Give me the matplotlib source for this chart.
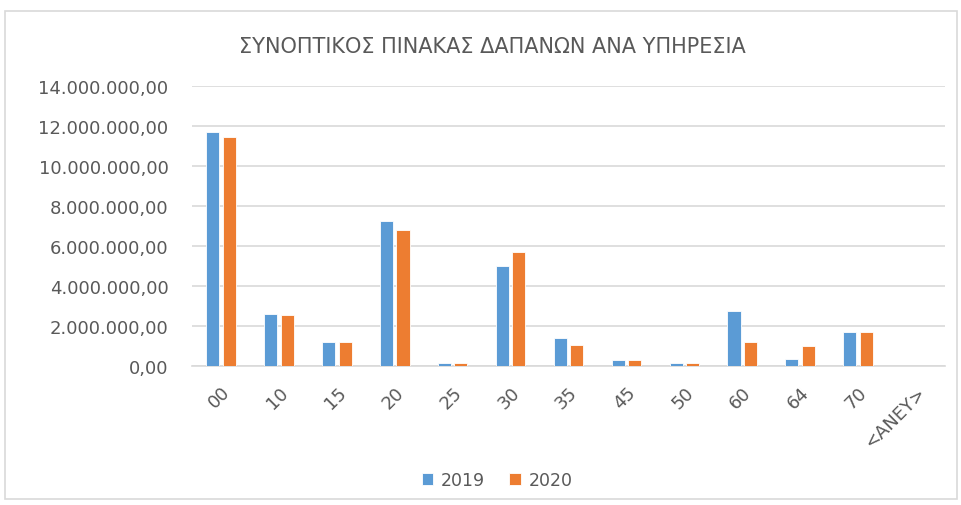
import matplotlib.pyplot as plt
import matplotlib.patches as mpatches
from matplotlib.ticker import FuncFormatter, MultipleLocator
import numpy as np

# --- DATA ---
categories = ["00", "10", "15", "20", "25", "30", "35", "45", "50", "60", "64", "70", "<ΑΝΕΥ>"]
values_2019 = [11680000, 2580000, 1180000, 7270000, 130000, 4980000, 1380000,
               300000, 130000, 2750000, 350000, 1700000, 0]
values_2020 = [11450000, 2530000, 1180000, 6820000, 130000, 5720000, 1030000,
               300000, 130000, 1200000, 980000, 1700000, 0]

BLUE = "#5B9BD5"
ORANGE = "#ED7D31"
TXT = "#595959"


def greek_fmt(v, pos):
    s = f"{v:,.2f}"
    return s.replace(",", "X").replace(".", ",").replace("X", ".")


plt.rcParams['font.family'] = ['DejaVu Sans']

fig = plt.figure(figsize=(9.61, 5.06), dpi=100)
fig.patch.set_facecolor("white")

# outer chart border
fig.patches.append(mpatches.Rectangle((5 / 961, 6 / 506), 952 / 961, 488 / 506,
                                      transform=fig.transFigure, fill=False,
                                      edgecolor="#d9d9d9", linewidth=1.2))

ax = fig.add_axes([192 / 961, 1 - 367 / 506, 753 / 961, 280 / 506])

x = np.arange(len(categories))
w = 0.225
ax.bar(x - w / 2 - 0.03, values_2019, w, color=BLUE, edgecolor="white", linewidth=0.6, label="2019", zorder=3)
ax.bar(x + w / 2 + 0.03, values_2020, w, color=ORANGE, edgecolor="white", linewidth=0.6, label="2020", zorder=3)

ax.set_xlim(-0.5, len(categories) - 0.5)
ax.set_ylim(0, 14000000)
ax.yaxis.set_major_locator(MultipleLocator(2000000))
ax.yaxis.set_major_formatter(FuncFormatter(greek_fmt))
ax.grid(axis="y", color="#d9d9d9", linewidth=1.2, zorder=0)

for s in ["top", "right", "left"]:
    ax.spines[s].set_visible(False)
ax.spines["bottom"].set_color("#d9d9d9")
ax.spines["bottom"].set_linewidth(1.2)

ax.set_xticks(x)
ax.set_xticklabels(categories, rotation=45, ha="right", rotation_mode="anchor")
ax.tick_params(axis="both", length=0, colors=TXT, labelsize=13)
ax.tick_params(axis="y", pad=17)
ax.tick_params(axis="x", pad=12)

fig.text(492 / 961, 1 - 47 / 506, "ΣΥΝΟΠΤΙΚΟΣ ΠΙΝΑΚΑΣ ΔΑΠΑΝΩΝ ΑΝΑ ΥΠΗΡΕΣΙΑ",
         ha="center", va="center", fontsize=15, color=TXT)

fig.legend(loc="center", bbox_to_anchor=(497 / 961, 1 - 481 / 506), ncol=2, frameon=False,
           fontsize=12.5, labelcolor=TXT, handlelength=0.65, handleheight=0.65,
           handletextpad=0.45, columnspacing=1.4)

fig.savefig("out.png", dpi=100)
